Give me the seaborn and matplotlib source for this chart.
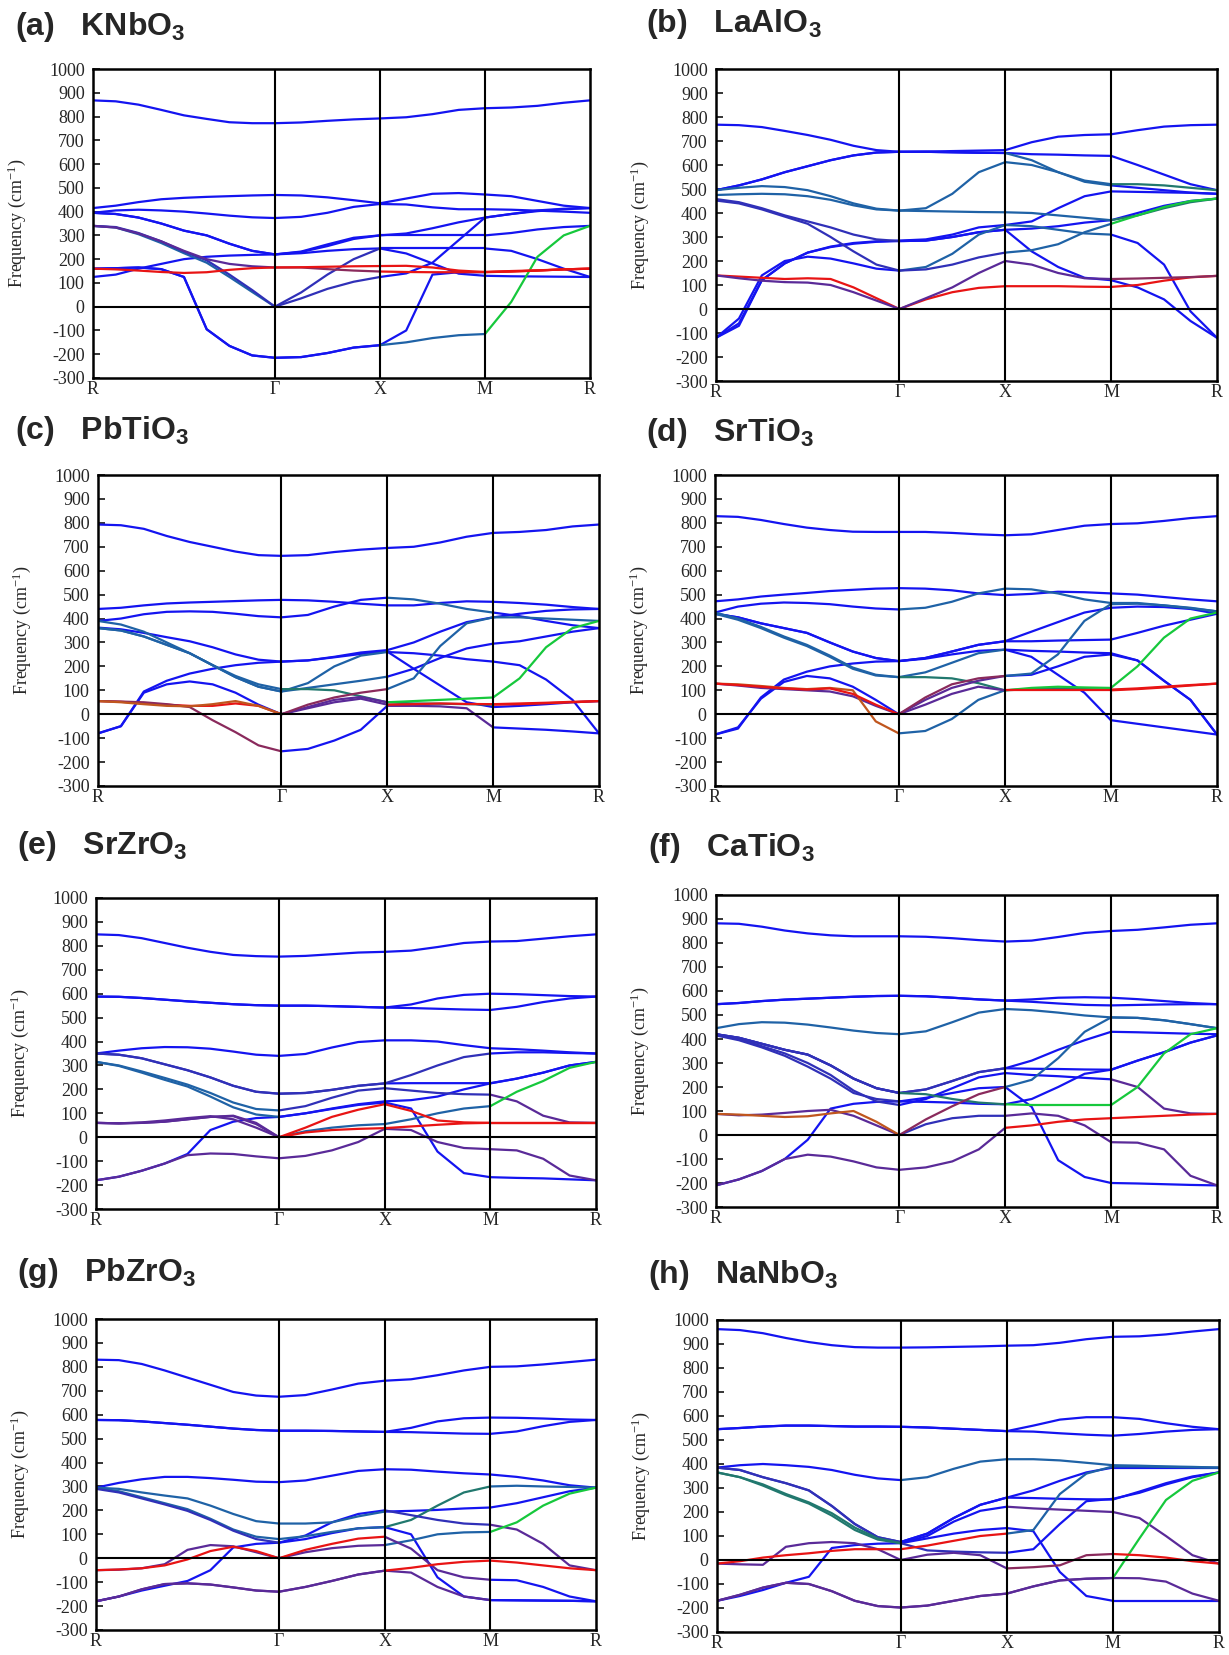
import numpy as np
import pandas as pd
import matplotlib
matplotlib.use("Agg")
import matplotlib.pyplot as plt
import seaborn as sns

# ---------------- data ----------------
KPOINT_LABELS = ["R", "Γ", "X", "M", "R"]
SEGMENT_LENGTHS = [np.sqrt(3) / 2, 0.5, 0.5, 0.5]   # R-Γ, Γ-X, X-M, M-R
SEGMENT_STEPS = [8, 4, 4, 4]
YTICKS = list(range(-300, 1001, 100))

# each band: 21 frequencies (cm^-1) along R-Γ (9) | Γ-X (4) | X-M (4) | M-R (4)
KNBO3 = [
    [868, 864, 850, 828, 805, 790, 776, 772, 772, 775, 782, 788, 792, 797, 810, 828, 835, 838, 845, 858, 868],
    [415, 425, 440, 452, 458, 462, 465, 468, 470, 468, 460, 448, 435, 455, 475, 478, 472, 465, 445, 425, 415],
    [395, 405, 408, 405, 400, 392, 383, 376, 373, 378, 395, 420, 432, 430, 418, 410, 410, 408, 404, 400, 395],
    [395, 390, 375, 350, 320, 300, 265, 235, 220, 230, 255, 285, 300, 300, 300, 300, 300, 310, 325, 335, 340],
    [125, 135, 160, 180, 200, 210, 215, 218, 220, 225, 235, 242, 245, 245, 245, 245, 245, 235, 200, 160, 125],
    [160, 162, 165, 158, 125, -95, -165, -205, -215, -212, -195, -172, -162, -150, -132, -120, -115, 20, 210, 300, 340],
    [340, 333, 305, 268, 225, 185, 125, 62, 0, 60, 135, 200, 245, 224, 182, 139, 130, 128, 127, 126, 125],
    [340, 333, 308, 275, 235, 200, 180, 170, 165, 165, 158, 152, 148, 146, 145, 145, 146, 150, 153, 157, 160],
    [160, 157, 152, 146, 142, 145, 155, 162, 165, 166, 168, 170, 171, 172, 165, 152, 146, 148, 152, 157, 160],
    [340, 335, 310, 275, 232, 195, 135, 70, 0, 35, 75, 105, 125, 140, 185, 280, 375, 390, 405, 412, 415],
    [395, 390, 375, 350, 320, 300, 265, 235, 220, 232, 262, 290, 300, 308, 330, 355, 375, 390, 402, 410, 415],
    [160, 162, 165, 158, 125, -95, -165, -205, -215, -212, -195, -172, -162, -100, 135, 145, 145, 148, 152, 157, 160],
]
KNBO3_COLORS = ["bbbb", "bbbb", "bbbb", "bbbb", "bbbb", "bbtg", "tnbb", "pmrr", "rrrr", "nnbb", "bbbb", "bbbr"]

LAALO3 = [
    [768, 766, 758, 742, 725, 705, 680, 662, 655, 656, 658, 660, 662, 695, 718, 725, 728, 745, 760, 766, 768],
    [495, 515, 540, 570, 595, 620, 640, 652, 655, 655, 653, 651, 650, 645, 643, 640, 638, 600, 560, 520, 495],
    [495, 505, 512, 508, 495, 470, 440, 418, 410, 420, 480, 570, 612, 600, 570, 535, 520, 520, 515, 505, 495],
    [475, 478, 480, 478, 470, 455, 432, 415, 410, 408, 406, 404, 403, 400, 390, 380, 370, 390, 420, 445, 460],
    [458, 445, 420, 390, 365, 340, 310, 290, 283, 285, 300, 320, 330, 335, 345, 360, 370, 400, 430, 450, 460],
    [452, 440, 415, 385, 355, 300, 240, 185, 160, 175, 230, 310, 350, 365, 420, 470, 490, 488, 486, 484, 480],
    [140, 135, 130, 125, 128, 125, 90, 45, 0, 45, 90, 150, 200, 185, 150, 128, 125, 127, 130, 133, 138],
    [140, 128, 118, 112, 110, 100, 70, 35, 0, 40, 70, 88, 95, 95, 95, 93, 92, 100, 118, 132, 138],
    [-120, -40, 140, 200, 218, 210, 190, 168, 160, 165, 185, 215, 235, 245, 270, 320, 355, 390, 425, 450, 460],
    [-120, -70, 120, 190, 235, 260, 275, 282, 285, 290, 310, 340, 350, 345, 330, 315, 310, 275, 185, -10, -120],
    [-120, -60, 120, 190, 235, 258, 272, 280, 283, 285, 300, 320, 330, 240, 175, 130, 120, 90, 40, -50, -120],
    [495, 515, 540, 570, 595, 620, 640, 652, 655, 655, 653, 651, 650, 620, 570, 530, 515, 505, 495, 485, 480],
]
LAALO3_COLORS = ["bbbb", "bbbb", "tttG", "tttG", "nbbb", "ntbb", "rppm", "prrr", "bntg", "bbtb", "bbbb", "bbtb"]

PBTIO3 = [
    [793, 790, 775, 745, 720, 700, 680, 665, 662, 665, 678, 688, 695, 700, 718, 742, 758, 762, 770, 785, 793],
    [440, 445, 455, 463, 467, 470, 473, 476, 478, 476, 470, 462, 455, 455, 465, 472, 470, 465, 458, 448, 440],
    [390, 400, 418, 428, 430, 428, 420, 410, 405, 415, 450, 478, 487, 480, 462, 440, 425, 410, 390, 372, 360],
    [362, 355, 340, 322, 305, 280, 250, 228, 220, 225, 240, 258, 268, 300, 345, 385, 405, 420, 432, 438, 440],
    [390, 375, 345, 300, 255, 205, 160, 125, 105, 105, 100, 75, 50, 55, 60, 65, 70, 150, 280, 360, 390],
    [360, 350, 325, 290, 255, 205, 155, 115, 95, 130, 200, 245, 260, 255, 245, 230, 220, 205, 145, 60, -80],
    [-80, -50, 95, 140, 170, 190, 205, 215, 220, 225, 238, 252, 262, 190, 120, 50, 30, 35, 42, 50, 55],
    [-80, -50, 90, 125, 137, 125, 90, 40, 0, 30, 60, 72, 50, 45, 44, 42, 40, 42, 46, 50, 55],
    [55, 53, 50, 42, 30, -25, -75, -130, -155, -145, -110, -65, 35, 35, 33, 25, -55, -60, -65, -72, -80],
    [55, 50, 42, 35, 33, 42, 55, 35, 0, 40, 70, 90, 105, 150, 285, 380, 405, 405, 400, 395, 390],
    [55, 52, 45, 40, 35, 35, 45, 35, 0, 25, 50, 65, 40, 42, 45, 43, 42, 45, 48, 52, 55],
    [360, 350, 325, 290, 255, 205, 155, 115, 95, 110, 125, 140, 157, 190, 235, 275, 295, 305, 325, 345, 360],
]
PBTIO3_COLORS = ["bbbb", "bbbb", "bbtb", "bbbb", "tGgg", "ttbb", "bbbb", "bpGr", "mbpb", "omtt", "rprr", "ttbb"]

SRTIO3 = [
    [828, 825, 812, 795, 780, 770, 763, 762, 762, 762, 758, 752, 748, 752, 770, 788, 795, 798, 808, 820, 828],
    [472, 480, 492, 500, 507, 515, 520, 525, 527, 525, 518, 505, 498, 503, 512, 510, 505, 500, 490, 480, 472],
    [425, 450, 462, 467, 465, 460, 450, 442, 438, 445, 470, 505, 525, 522, 505, 480, 465, 465, 455, 443, 430],
    [420, 405, 380, 360, 340, 300, 262, 235, 222, 235, 262, 290, 305, 345, 385, 425, 445, 450, 448, 440, 420],
    [425, 400, 365, 325, 290, 245, 195, 165, 155, 155, 150, 130, 100, 110, 115, 112, 110, 200, 320, 400, 425],
    [420, 395, 360, 320, 285, 240, 190, 162, 155, 175, 215, 255, 270, 265, 262, 258, 255, 225, 140, 60, -85],
    [-85, -60, 70, 145, 178, 200, 212, 220, 222, 232, 250, 265, 270, 240, 165, 90, -25, -40, -55, -70, -85],
    [-85, -55, 65, 135, 160, 150, 115, 60, 0, 60, 110, 140, 160, 165, 200, 240, 250, 225, 140, 60, -85],
    [128, 125, 118, 110, 105, 110, 100, -30, -80, -70, -20, 60, 100, 105, 108, 105, 103, 108, 115, 122, 128],
    [128, 122, 115, 108, 103, 108, 85, 40, 0, 70, 125, 150, 160, 170, 250, 390, 460, 462, 455, 445, 430],
    [128, 120, 110, 105, 100, 95, 75, 35, 0, 40, 85, 115, 100, 100, 100, 100, 100, 105, 112, 120, 128],
    [420, 405, 380, 360, 340, 300, 262, 235, 222, 235, 262, 290, 305, 305, 308, 310, 312, 340, 370, 395, 420],
]
SRTIO3_COLORS = ["bbbb", "bbbb", "bttt", "bbbb", "tGgg", "ttbb", "bbbb", "bpbb", "otGr", "rmtt", "pprr", "bbbb"]

SRZRO3 = [
    [848, 845, 832, 812, 792, 775, 762, 757, 755, 758, 765, 772, 775, 780, 795, 812, 818, 820, 830, 840, 848],
    [588, 587, 582, 575, 568, 562, 556, 552, 550, 550, 548, 545, 542, 555, 580, 595, 600, 598, 594, 590, 588],
    [588, 587, 582, 575, 568, 562, 556, 552, 550, 550, 548, 545, 542, 540, 537, 534, 532, 545, 565, 580, 588],
    [350, 362, 372, 377, 376, 370, 358, 345, 340, 348, 375, 398, 405, 405, 400, 385, 372, 368, 362, 355, 350],
    [350, 345, 330, 305, 280, 250, 215, 190, 182, 185, 198, 215, 225, 260, 300, 335, 350, 355, 355, 352, 350],
    [315, 300, 275, 248, 220, 185, 145, 118, 112, 130, 165, 195, 205, 195, 185, 180, 178, 150, 90, 62, 60],
    [315, 298, 270, 240, 212, 170, 125, 95, 85, 100, 120, 138, 150, 155, 170, 200, 225, 245, 270, 300, 315],
    [60, 58, 60, 65, 75, 85, 90, 60, 0, 40, 85, 115, 138, 110, 70, 62, 60, 60, 60, 60, 60],
    [-180, -165, -140, -110, -75, -68, -70, -80, -88, -78, -55, -20, 35, 30, -20, -45, -50, -55, -90, -160, -180],
    [-180, -165, -140, -110, -70, 30, 65, 80, 85, 100, 118, 135, 145, 120, -60, -150, -167, -170, -172, -176, -180],
    [60, 58, 62, 70, 80, 88, 75, 40, 0, 25, 40, 50, 55, 75, 100, 120, 130, 190, 235, 290, 315],
    [60, 58, 60, 65, 75, 85, 88, 55, 0, 20, 30, 35, 38, 45, 52, 58, 60, 60, 60, 60, 60],
    [350, 345, 330, 305, 280, 250, 215, 190, 182, 185, 198, 215, 225, 226, 226, 226, 226, 245, 270, 300, 315],
]
SRZRO3_COLORS = ["bbbb", "bbbb", "bbbb", "bbbb", "nnnb", "tnnp", "tbbb", "prrr", "pppp", "bbbb", "pttg", "prrr", "nnbb"]

CATIO3 = [
    [882, 880, 868, 852, 840, 832, 828, 828, 828, 826, 820, 812, 806, 810, 825, 842, 850, 855, 865, 876, 882],
    [545, 550, 558, 564, 568, 572, 576, 579, 580, 578, 572, 565, 560, 565, 572, 574, 572, 566, 558, 550, 545],
    [545, 550, 558, 564, 568, 572, 576, 579, 580, 578, 572, 565, 560, 555, 548, 542, 540, 542, 544, 545, 545],
    [445, 462, 470, 468, 460, 448, 435, 425, 420, 432, 470, 510, 525, 520, 510, 498, 490, 488, 478, 462, 445],
    [420, 405, 380, 355, 335, 290, 235, 195, 175, 190, 225, 262, 278, 310, 355, 395, 430, 428, 425, 422, 420],
    [420, 400, 370, 340, 300, 250, 185, 140, 125, 150, 195, 240, 258, 250, 245, 238, 232, 200, 110, 90, 88],
    [415, 395, 365, 330, 285, 235, 175, 150, 140, 155, 175, 195, 200, 117, -105, -175, -200, -202, -205, -208, -210],
    [420, 405, 380, 355, 335, 290, 235, 195, 175, 170, 150, 135, 128, 125, 125, 125, 125, 200, 340, 420, 445],
    [-210, -185, -150, -100, -20, 110, 130, 138, 140, 138, 135, 130, 128, 150, 200, 255, 272, 310, 345, 385, 415],
    [-210, -185, -150, -100, -82, -90, -110, -135, -145, -135, -110, -60, 30, 40, 55, 65, 70, 75, 80, 85, 88],
    [88, 85, 80, 75, 78, 90, 100, 55, 0, 65, 120, 170, 200, 230, 320, 430, 490, 488, 478, 462, 445],
    [88, 82, 85, 92, 100, 105, 80, 40, 0, 45, 70, 80, 80, 90, 80, 40, -30, -32, -60, -170, -210],
    [420, 405, 380, 355, 335, 290, 235, 195, 175, 190, 225, 262, 278, 276, 275, 273, 272, 310, 345, 385, 415],
]
CATIO3_COLORS = ["bbbb", "bbbb", "bbbb", "tttt", "nnbb", "nbbp", "nbbb", "nGgg", "bbbb", "pprr", "omtt", "pnpp", "nnbb"]

PBZRO3 = [
    [830, 828, 812, 785, 755, 725, 695, 680, 675, 682, 705, 730, 742, 748, 765, 785, 800, 802, 810, 820, 830],
    [578, 577, 572, 565, 558, 550, 542, 536, 533, 533, 532, 530, 528, 545, 572, 585, 588, 587, 584, 580, 578],
    [578, 577, 572, 565, 558, 550, 542, 536, 533, 533, 532, 530, 528, 527, 524, 521, 520, 530, 552, 570, 578],
    [295, 315, 330, 340, 340, 335, 328, 320, 318, 325, 345, 365, 372, 370, 362, 355, 350, 340, 325, 305, 295],
    [295, 290, 275, 262, 250, 220, 185, 155, 145, 145, 150, 175, 195, 198, 202, 208, 212, 230, 255, 280, 295],
    [295, 280, 255, 230, 205, 165, 120, 90, 80, 92, 110, 125, 130, 160, 220, 275, 300, 303, 300, 298, 295],
    [290, 275, 250, 225, 198, 160, 115, 80, 65, 95, 150, 185, 200, 180, 160, 145, 140, 120, 60, -30, -50],
    [-50, -48, -42, -25, 35, 55, 50, 25, 0, 25, 42, 52, 55, 75, 100, 108, 110, 150, 220, 270, 295],
    [-50, -47, -42, -30, -5, 30, 48, 30, 0, 35, 60, 82, 90, 40, -50, -80, -90, -92, -120, -160, -180],
    [-180, -160, -135, -115, -95, -50, 45, 60, 65, 80, 105, 125, 130, 100, -80, -160, -175, -176, -177, -178, -180],
    [-180, -160, -130, -108, -105, -110, -122, -135, -140, -120, -95, -68, -52, -60, -120, -160, -175, -176, -177, -178, -180],
    [-180, -160, -130, -108, -105, -110, -122, -135, -140, -120, -95, -68, -52, -40, -25, -15, -10, -18, -30, -42, -50],
]
PBZRO3_COLORS = ["bbbb", "bbbb", "bbbb", "bbbb", "ttbb", "ttGt", "nbnp", "pptg", "rrpb", "bbbb", "pppb", "pprr"]

NANBO3 = [
    [962, 958, 945, 925, 908, 895, 887, 885, 885, 886, 888, 890, 893, 895, 905, 920, 930, 932, 940, 952, 962],
    [545, 550, 556, 560, 560, 558, 556, 556, 555, 552, 547, 542, 537, 560, 585, 595, 595, 588, 570, 555, 545],
    [545, 550, 556, 560, 560, 558, 556, 556, 555, 552, 547, 542, 537, 535, 528, 522, 518, 525, 535, 542, 545],
    [385, 395, 400, 395, 388, 375, 355, 340, 333, 345, 380, 410, 420, 420, 415, 405, 395, 393, 390, 388, 385],
    [385, 375, 345, 320, 290, 225, 150, 95, 75, 110, 175, 230, 260, 290, 330, 365, 385, 385, 385, 385, 385],
    [365, 345, 315, 275, 240, 195, 135, 90, 70, 100, 160, 205, 222, 215, 210, 205, 200, 175, 100, 20, -15],
    [365, 345, 310, 270, 235, 185, 125, 85, 70, 90, 110, 125, 133, 120, -50, -150, -170, -170, -170, -170, -170],
    [-170, -150, -125, -95, -70, 50, 62, 68, 70, 40, 35, 32, 30, 45, 150, 245, 255, 280, 315, 345, 365],
    [-170, -145, -115, -95, -100, -130, -170, -192, -198, -190, -170, -150, -140, -110, -85, -78, -75, 90, 250, 330, 365],
    [-170, -145, -115, -95, -100, -130, -170, -192, -198, -190, -170, -150, -140, -110, -85, -78, -75, -76, -90, -140, -170],
    [-15, -5, 10, 20, 28, 38, 45, 45, 45, 60, 80, 100, 110, 125, 275, 360, 390, 390, 388, 386, 385],
    [-15, -18, -20, 55, 70, 75, 70, 45, 0, 22, 30, 20, -35, -30, -22, 20, 25, 20, 10, -5, -15],
    [385, 375, 345, 320, 290, 225, 150, 95, 75, 110, 175, 230, 260, 258, 255, 253, 252, 285, 320, 348, 365],
]
NANBO3_COLORS = ["bbbb", "bbbb", "bbbb", "bttt", "nbbb", "Gbpp", "Gbbb", "bnbb", "pppg", "pppp", "rrtt", "ppmr", "nbbb"]

PANEL_TAGS = ["(a)", "(b)", "(c)", "(d)", "(e)", "(f)", "(g)", "(h)"]
PANEL_NAMES = ["KNbO", "LaAlO", "PbTiO", "SrTiO", "SrZrO", "CaTiO", "PbZrO", "NaNbO"]
PANEL_BANDS = [KNBO3, LAALO3, PBTIO3, SRTIO3, SRZRO3, CATIO3, PBZRO3, NANBO3]
PANEL_COLORS = [KNBO3_COLORS, LAALO3_COLORS, PBTIO3_COLORS, SRTIO3_COLORS,
                SRZRO3_COLORS, CATIO3_COLORS, PBZRO3_COLORS, NANBO3_COLORS]

# ---------------- style ----------------
PALETTE = {
    "b": "#1414f0", "n": "#3030b8", "t": "#1f62a6", "G": "#21786e",
    "g": "#16c83c", "r": "#e81414", "p": "#5a2a98", "m": "#8a2a5c", "o": "#c0561e",
}

# axes boxes in pixels: left, right, top, bottom
AX_BOXES = [
    (93, 590, 69, 378), (716, 1217, 69, 381),
    (98, 599, 475, 786), (715, 1217, 475, 786),
    (96, 596, 898, 1209), (716, 1217, 895, 1207),
    (96, 596, 1319, 1630), (717, 1219, 1320, 1632),
]
TITLE_POS = [(15, 27), (646, 24), (15, 431), (646, 433), (17, 846), (648, 848), (17, 1273), (648, 1275)]

W, H = 1229, 1655
sns.set_style("ticks")
plt.rcParams["font.family"] = ["Liberation Serif", "DejaVu Serif"]
plt.rcParams["axes.unicode_minus"] = False

fig = plt.figure(figsize=(W / 100, H / 100), dpi=100)

edges = np.concatenate([[0.0], np.cumsum(SEGMENT_LENGTHS)])
seg_q = [np.linspace(edges[i], edges[i + 1], n + 1) for i, n in enumerate(SEGMENT_STEPS)]
seg_start = np.concatenate([[0], np.cumsum(SEGMENT_STEPS)])

for k in range(8):
    L, R, T, B = AX_BOXES[k]
    ax = fig.add_axes([L / W, 1 - B / H, (R - L) / W, (B - T) / H])
    rows = []
    for bi, (vals, cols) in enumerate(zip(PANEL_BANDS[k], PANEL_COLORS[k])):
        for s in range(4):
            fv = vals[seg_start[s]:seg_start[s + 1] + 1]
            for q, f in zip(seg_q[s], fv):
                rows.append({"q": q, "f": f, "g": f"{bi}-{s}", "c": cols[s]})
    df = pd.DataFrame(rows)
    sns.lineplot(data=df, x="q", y="f", hue="c", units="g", estimator=None,
                 sort=False, palette=PALETTE, legend=False, linewidth=1.6, ax=ax)
    for xv in edges[1:-1]:
        ax.axvline(xv, color="black", lw=1.5, zorder=5)
    ax.axhline(0, color="black", lw=1.5, zorder=5)
    ax.set_xlim(edges[0], edges[-1])
    ax.set_ylim(-300, 1000)
    ax.set_xticks(edges)
    ax.set_xticklabels(KPOINT_LABELS, fontsize=13)
    ax.set_yticks(YTICKS)
    ax.set_yticklabels([str(v) for v in YTICKS], fontsize=13)
    ax.tick_params(axis="x", length=0, pad=2)
    ax.tick_params(axis="y", direction="in", length=5, width=1.3, pad=6)
    for sp in ax.spines.values():
        sp.set_linewidth(1.8)
        sp.set_color("black")
    ax.set_xlabel("")
    ax.set_ylabel(r"Frequency (cm$\mathregular{^{-1}}$)", fontsize=13)
    ax.yaxis.set_label_coords(-65 / (R - L), 0.5)
    tx, ty = TITLE_POS[k]
    fig.text(tx / W, 1 - ty / H, PANEL_TAGS[k] + "   " + PANEL_NAMES[k] + r"$\mathregular{_3}$",
             fontsize=23, fontweight="bold", family=["Liberation Sans", "DejaVu Sans"],
             ha="left", va="center")

fig.savefig("out.png", dpi=100)
